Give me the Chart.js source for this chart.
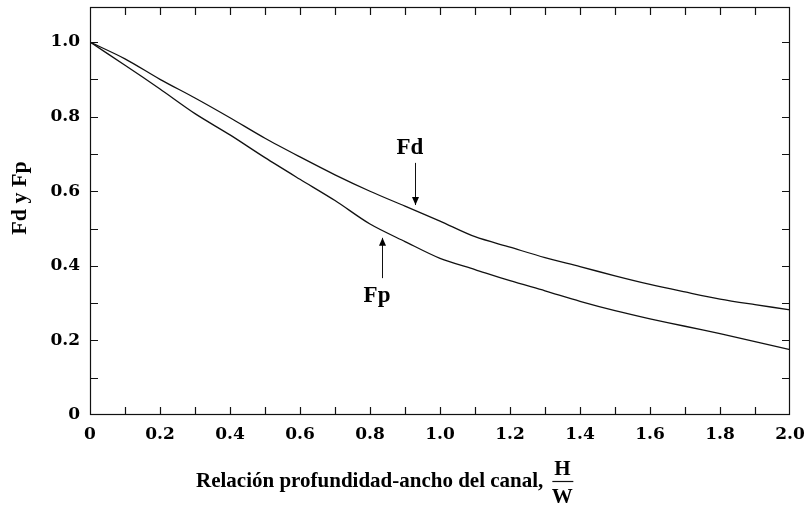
<!DOCTYPE html>
<html><head><meta charset="utf-8">
<script src="https://cdn.jsdelivr.net/npm/chart.js@4/dist/chart.umd.min.js"></script>
<style>html,body{margin:0;padding:0;background:#fff;}#wrap{width:810px;height:512px;}</style>
</head><body><div id="wrap"><canvas id="c" width="810" height="512"></canvas></div>
<script>
// ---- data ----
const xValues  = [0, 0.1, 0.2, 0.3, 0.4, 0.5, 0.6, 0.7, 0.8, 0.9, 1.0, 1.1, 1.2, 1.3, 1.4, 1.5, 1.6, 1.7, 1.8, 1.9, 2.0];
const fdValues = [1.0, 0.955, 0.900, 0.850, 0.797, 0.742, 0.692, 0.644, 0.600, 0.560, 0.520, 0.478, 0.450, 0.422, 0.398, 0.373, 0.350, 0.330, 0.311, 0.296, 0.282];
const fpValues = [1.0, 0.938, 0.874, 0.808, 0.751, 0.690, 0.632, 0.575, 0.512, 0.465, 0.420, 0.390, 0.360, 0.333, 0.305, 0.280, 0.258, 0.238, 0.218, 0.197, 0.175];
const xTickValues = [0, 0.2, 0.4, 0.6, 0.8, 1.0, 1.2, 1.4, 1.6, 1.8, 2.0];
const xTickLabels = ['0', '0.2', '0.4', '0.6', '0.8', '1.0', '1.2', '1.4', '1.6', '1.8', '2.0'];
const yTickValues = [0, 0.2, 0.4, 0.6, 0.8, 1.0];
const yTickLabels = ['0', '0.2', '0.4', '0.6', '0.8', '1.0'];
const xMinorTicks = [0.1, 0.2, 0.3, 0.4, 0.5, 0.6, 0.7, 0.8, 0.9, 1.0, 1.1, 1.2, 1.3, 1.4, 1.5, 1.6, 1.7, 1.8, 1.9];
const yMinorTicks = [0.1, 0.2, 0.3, 0.4, 0.5, 0.6, 0.7, 0.8, 0.9, 1.0];
const xTitle = 'Relación profundidad-ancho del canal,';
const xTitleFracTop = 'H';
const xTitleFracBottom = 'W';
const yTitle = 'Fd y Fp';
const labelFd = 'Fd';
const labelFp = 'Fp';

// ---- layout / style ----
const X_MIN = 0, X_MAX = 2.0, Y_MIN = 0, Y_MAX = 1.094;
const tickFont = {family: '"DejaVu Serif", serif', size: 17, weight: 'bold'};
const annot = [
  {text: labelFd, tx: 0.914, ty: 0.716, ax: 0.929, ay0: 0.676, ay1: 0.563},
  {text: labelFp, tx: 0.820, ty: 0.318, ax: 0.834, ay0: 0.367, ay1: 0.475}
];

const decor = {
  id: 'decor',
  afterDraw(chart) {
    const ctx = chart.ctx, a = chart.chartArea;
    const xs = chart.scales.x, ys = chart.scales.y;
    ctx.save();
    ctx.strokeStyle = '#111';
    ctx.lineWidth = 1.2;
    ctx.strokeRect(a.left + 0.5, a.top + 0.5, a.right - a.left - 1, a.bottom - a.top - 1);
    const L = 8;
    ctx.beginPath();
    xMinorTicks.forEach(v => {
      const px = Math.round(xs.getPixelForValue(v)) + 0.5;
      ctx.moveTo(px, a.bottom); ctx.lineTo(px, a.bottom - L);
      ctx.moveTo(px, a.top); ctx.lineTo(px, a.top + L);
    });
    yMinorTicks.forEach(v => {
      const py = Math.round(ys.getPixelForValue(v)) + 0.5;
      ctx.moveTo(a.left, py); ctx.lineTo(a.left + L, py);
      ctx.moveTo(a.right, py); ctx.lineTo(a.right - L, py);
    });
    ctx.stroke();

    // y title
    ctx.fillStyle = '#000';
    ctx.font = 'bold 22px "Liberation Serif", serif';
    ctx.textAlign = 'center';
    ctx.textBaseline = 'middle';
    ctx.save();
    ctx.translate(20, 198);
    ctx.rotate(-Math.PI / 2);
    ctx.fillText(yTitle, 0, 0);
    ctx.restore();

    // x title with fraction
    ctx.font = 'bold 21px "Liberation Serif", serif';
    ctx.textAlign = 'left';
    ctx.textBaseline = 'alphabetic';
    const tw = ctx.measureText(xTitle).width;
    const x0 = 196;
    ctx.fillText(xTitle, x0, 487);
    const fx = x0 + tw + 9;
    ctx.textAlign = 'center';
    ctx.fillText(xTitleFracTop, fx + 10, 475);
    ctx.fillText(xTitleFracBottom, fx + 10, 503);
    ctx.beginPath();
    ctx.lineWidth = 1.2;
    ctx.moveTo(fx, 481.5); ctx.lineTo(fx + 21, 481.5);
    ctx.stroke();

    // annotations
    ctx.font = 'bold 23px "Liberation Serif", serif';
    ctx.textAlign = 'center';
    ctx.textBaseline = 'middle';
    annot.forEach(n => {
      ctx.fillText(n.text, xs.getPixelForValue(n.tx), ys.getPixelForValue(n.ty));
      const ax = Math.round(xs.getPixelForValue(n.ax)) + 0.5;
      const y0 = ys.getPixelForValue(n.ay0), y1 = ys.getPixelForValue(n.ay1);
      ctx.beginPath();
      ctx.lineWidth = 1;
      ctx.moveTo(ax, y0); ctx.lineTo(ax, y1);
      ctx.stroke();
      const dir = y1 > y0 ? 1 : -1;
      ctx.beginPath();
      ctx.moveTo(ax, y1);
      ctx.lineTo(ax - 3.5, y1 - dir * 8);
      ctx.lineTo(ax + 3.5, y1 - dir * 8);
      ctx.closePath();
      ctx.fill();
    });
    ctx.restore();
  }
};

new Chart(document.getElementById('c'), {
  type: 'line',
  data: {
    datasets: [
      {label: 'Fd', data: xValues.map((x, i) => ({x: x, y: fdValues[i]})), borderColor: '#111', borderWidth: 1.3, pointRadius: 0, tension: 0.3, fill: false},
      {label: 'Fp', data: xValues.map((x, i) => ({x: x, y: fpValues[i]})), borderColor: '#111', borderWidth: 1.3, pointRadius: 0, tension: 0.3, fill: false}
    ]
  },
  options: {
    responsive: false,
    animation: false,
    devicePixelRatio: 1,
    layout: {padding: {top: 7, right: 20, left: 0, bottom: 0}},
    plugins: {legend: {display: false}, tooltip: {enabled: false}},
    scales: {
      x: {
        type: 'linear', min: X_MIN, max: X_MAX,
        afterBuildTicks: s => { s.ticks = xTickValues.map(v => ({value: v})); },
        afterFit: s => { s.height = 97; s.paddingLeft = 0; s.paddingRight = 0; },
        ticks: {callback: (v, i) => xTickLabels[i], font: tickFont, color: '#000', padding: 9, maxRotation: 0, autoSkip: false},
        grid: {display: false, drawTicks: false},
        border: {display: false}
      },
      y: {
        type: 'linear', min: Y_MIN, max: Y_MAX,
        afterBuildTicks: s => { s.ticks = yTickValues.map(v => ({value: v})); },
        afterFit: s => { s.width = 90; s.paddingTop = 0; s.paddingBottom = 0; },
        ticks: {callback: (v, i) => yTickLabels[i], font: tickFont, color: '#000', padding: 10, autoSkip: false},
        grid: {display: false, drawTicks: false},
        border: {display: false}
      }
    }
  },
  plugins: [decor]
});
</script></body></html>
